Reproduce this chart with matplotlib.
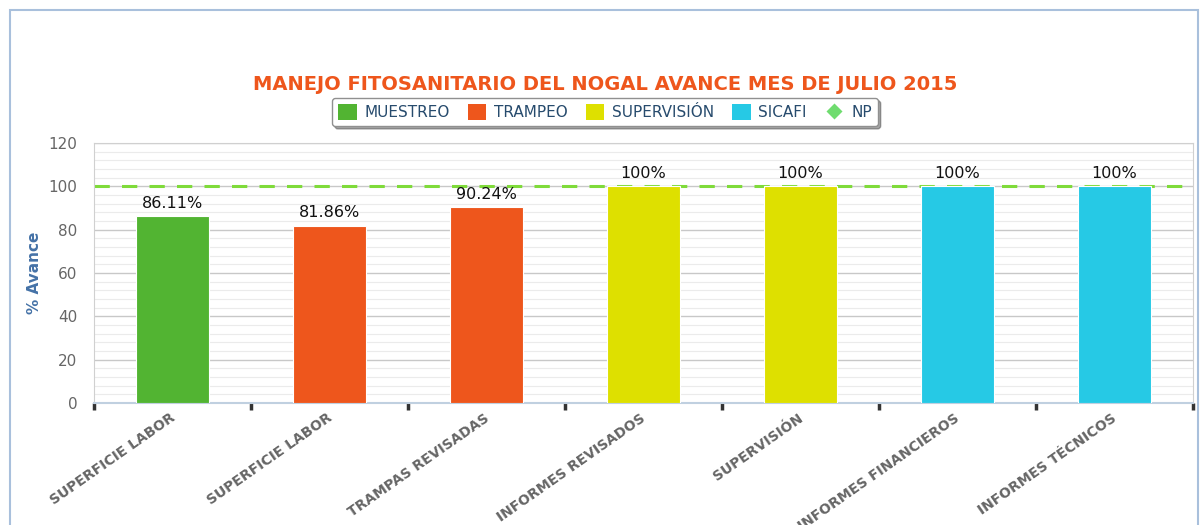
import matplotlib
matplotlib.use('Agg')
import matplotlib.pyplot as plt
from matplotlib.patches import Patch, Rectangle
from matplotlib.lines import Line2D
from matplotlib.ticker import MultipleLocator, FixedLocator

categories = ['SUPERFICIE LABOR', 'SUPERFICIE LABOR', 'TRAMPAS REVISADAS',
              'INFORMES REVISADOS', 'SUPERVISIÓN', 'INFORMES FINANCIEROS',
              'INFORMES TÉCNICOS']
values = [86.11, 81.86, 90.24, 100, 100, 100, 100]
labels = ['86.11%', '81.86%', '90.24%', '100%', '100%', '100%', '100%']
bar_series = ['MUESTREO', 'TRAMPEO', 'TRAMPEO', 'SUPERVISIÓN', 'SUPERVISIÓN',
              'SICAFI', 'SICAFI']
series_names = ['MUESTREO', 'TRAMPEO', 'SUPERVISIÓN', 'SICAFI']
series_colors = {'MUESTREO': '#52B432', 'TRAMPEO': '#EE561C',
                 'SUPERVISIÓN': '#DEE000', 'SICAFI': '#26C9E5'}
np_value = 100

fig = plt.figure(figsize=(12.01, 5.25), dpi=100)
# outer frame
fig.patches.append(Rectangle((10 / 1201, -0.05), 1188 / 1201, 1 - 10 / 525 + 0.05,
                             transform=fig.transFigure, fill=False,
                             edgecolor='#A9C0DC', linewidth=1.5))

ax = fig.add_axes([94 / 1201, 1 - 403 / 525, 1099 / 1201, 260 / 525])
x = list(range(len(categories)))
ax.bar(x, values, width=0.47, color=[series_colors[s] for s in bar_series],
       edgecolor='white', linewidth=0.8, zorder=3)
for xi, v, lab in zip(x, values, labels):
    ax.text(xi, v + 2.5, lab, ha='center', va='bottom', fontsize=11.5, color='#111111', zorder=5)

# NP line sits behind the bars
ax.axhline(np_value, color='#7FDB3A', linestyle=(0, (5, 4)), linewidth=2.2, zorder=2)

ax.set_xlim(-0.5, len(categories) - 0.5)
ax.set_ylim(0, 120)
ax.yaxis.set_major_locator(MultipleLocator(20))
ax.yaxis.set_minor_locator(MultipleLocator(4))
ax.grid(which='major', axis='y', color='#C8C8C8', linewidth=1, zorder=0)
ax.grid(which='minor', axis='y', color='#EBEBEB', linewidth=0.8, zorder=0)

ax.set_xticks(x)
ax.set_xticklabels(categories, rotation=35, ha='right', va='center_baseline',
                   rotation_mode='anchor', fontsize=10, fontweight='bold', color='#666666')
ax.tick_params(axis='x', which='major', length=0, pad=9)
ax.xaxis.set_minor_locator(FixedLocator([i - 0.5 for i in range(len(categories) + 1)]))
ax.tick_params(axis='x', which='minor', length=5, width=2.5, color='#333333', direction='out')
ax.tick_params(axis='y', which='both', length=0)
ax.tick_params(axis='y', labelsize=11, labelcolor='#666666', pad=12)

for s in ['top', 'right', 'left']:
    ax.spines[s].set_color('#D0D0D0')
ax.spines['bottom'].set_color('#C0D0E0')
ax.spines['bottom'].set_linewidth(1.5)

ax.set_ylabel('% Avance', fontsize=11, fontweight='bold', color='#4572A7')
ax.yaxis.set_label_coords(-52 / 1099, 0.5)

fig.text(605 / 1201, 1 - 85 / 525, 'MANEJO FITOSANITARIO DEL NOGAL AVANCE MES DE JULIO 2015',
         ha='center', va='center', fontsize=14, fontweight='bold', color='#EE561C')

handles = [Patch(facecolor=series_colors[s], edgecolor='none', label=s) for s in series_names]
handles.append(Line2D([], [], marker='D', color='none', markerfacecolor='#6FDC6F',
                      markeredgecolor='none', markersize=8, label='NP'))
leg = fig.legend(handles=handles, loc='center', bbox_to_anchor=(605 / 1201, 1 - 112 / 525),
                 ncol=5, frameon=True, fancybox=True, shadow=True, fontsize=11,
                 handlelength=1.2, handleheight=1.2, handletextpad=0.5, columnspacing=1.2,
                 borderpad=0.4)
leg.get_frame().set_edgecolor('#909090')
for t in leg.get_texts():
    t.set_color('#274B6D')

fig.savefig('out.png', dpi=100)
